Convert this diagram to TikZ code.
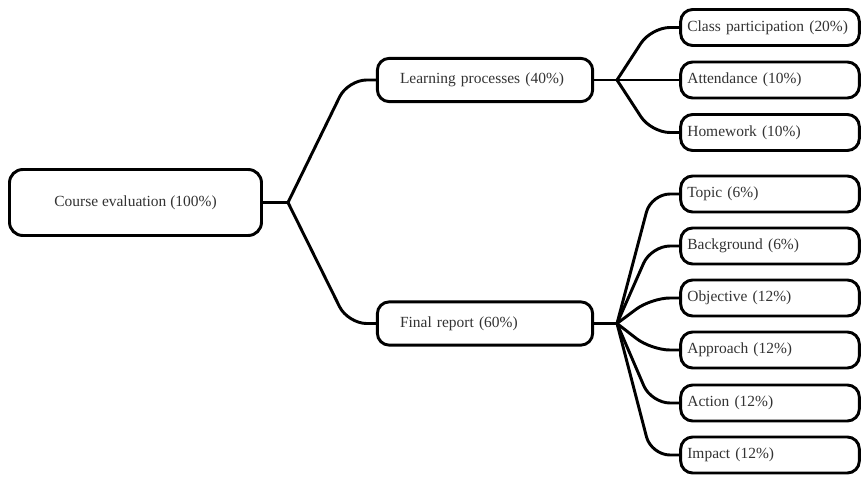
\documentclass[tikz,border=0pt]{standalone}
\usepackage{fontspec}
\setmainfont{Liberation Serif}
\newfontfamily\boxfont{Liberation Serif}
\usetikzlibrary{positioning,calc}
\tikzset{
  box/.style      = {draw=black, line width=2.2pt, rounded corners=9pt, fill=white, text=black!80, font=\boxfont\fontsize{11.6}{13}\selectfont, inner ysep=0pt},
  rootbox/.style  = {box, rounded corners=10pt, minimum width=189pt, minimum height=49.5pt, align=center},
  midbox/.style   = {box, text width=127.5pt, inner xsep=17pt, minimum height=32.5pt, align=left},
  leafbox/.style  = {box, text width=124pt, inner xsep=5pt, minimum height=27pt, align=left},
  link/.style     = {draw=black, line width=2.2pt, rounded corners=14pt},
}
\begin{document}
\begin{tikzpicture}[x=0.75pt,y=-0.75pt]
  \useasboundingbox (0,0) rectangle (862,477);

  \node[rootbox] (course) at (135.5,202.5) {Course evaluation (100\%)};
  \node[midbox] (learn) at (485,80) {Learning processes (40\%)};
  \node[midbox] (final) at (485,323.5) {Final report (60\%)};

  \coordinate (jcourse) at (288,202.5);
  \coordinate (jlearn) at (617,80);
  \coordinate (jfinal) at (617,323.5);

  \draw[link] (course) -- (jcourse);
  \draw[link] (jcourse) -- ($(learn.west)+(-28,0)$) -- (learn.west);
  \draw[link] (jcourse) -- ($(final.west)+(-28,0)$) -- (final.west);
  \draw[link] (learn) -- (jlearn);
  \draw[link] (final) -- (jfinal);

  \foreach \n/\t/\y in {%
    cls/{Class participation (20\%)}/27.5,
    att/{Attendance (10\%)}/80,
    hw/{Homework (10\%)}/132.5}
  {
    \node[leafbox] (\n) at (770,\y) {\t};
    \draw[link] (jlearn) -- ($(\n.west)+(-28,0)$) -- (\n.west);
  }

  \foreach \n/\t/\y in {%
    topic/{Topic (6\%)}/194,
    backgr/{Background (6\%)}/246,
    obj/{Objective (12\%)}/298,
    appr/{Approach (12\%)}/350,
    act/{Action (12\%)}/403,
    imp/{Impact (12\%)}/455}
  {
    \node[leafbox] (\n) at (770,\y) {\t};
    \draw[link] (jfinal) -- ($(\n.west)+(-28,0)$) -- (\n.west);
  }
\end{tikzpicture}
\end{document}
